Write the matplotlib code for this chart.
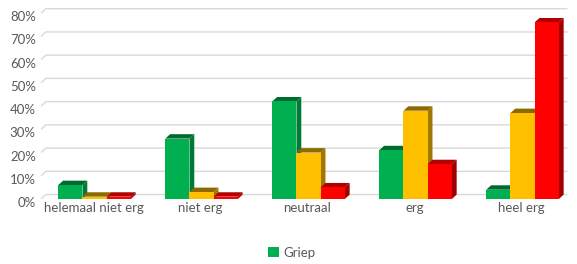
import matplotlib
matplotlib.use("Agg")
import matplotlib.pyplot as plt
import matplotlib.transforms as mtransforms
from matplotlib.patches import Polygon, Patch
import numpy as np

categories = ["helemaal niet erg", "niet erg", "neutraal", "erg", "heel erg"]
series_names = ["Griep", "Serie 2", "Serie 3"]
griep = [6, 26, 42, 21, 4]
serie2 = [1, 3, 20, 38, 37]
serie3 = [1, 1, 5, 15, 76]
yticks = [0, 10, 20, 30, 40, 50, 60, 70, 80]
ytick_labels = ["0%", "10%", "20%", "30%", "40%", "50%", "60%", "70%", "80%"]

front_colors = ["#00B050", "#FFC000", "#FF0000"]
side_colors = ["#007A36", "#A07800", "#A00000"]
top_colors = ["#006B2F", "#8C6A00", "#B00000"]

plt.rcParams['font.family'] = ['Lato', 'DejaVu Sans']

fig = plt.figure(figsize=(5.77, 2.64), dpi=100)
ax = fig.add_axes([40/577, (264-199)/264, 535/577, (199-1.5)/264])
ax.set_xlim(-0.5, 4.5)
ax.set_ylim(0, 85)

dx = 0.045   # depth offset in x (data units)
dz = 1.9     # depth offset in y (percent)
w = 0.226

x = np.arange(len(categories))

# back-wall gridlines
for v in yticks:
    ax.plot([-0.49, -0.49 + dx, 4.43], [v, v + dz, v + dz], color="#D9D9D9", lw=1.0,
            zorder=0, solid_capstyle="butt")

all_series = [griep, serie2, serie3]
for i, vals in enumerate(all_series):
    offs = (i - 1) * w + 0.01
    bars = ax.bar(x + offs, vals, width=w, color=front_colors[i], zorder=3 + i * 2,
                  label=series_names[i], linewidth=0)
    for b in bars:
        x0 = b.get_x()
        x1 = x0 + b.get_width()
        h = b.get_height()
        side = Polygon([(x1, 0), (x1 + dx, dz), (x1 + dx, h + dz), (x1, h)],
                       closed=True, facecolor=side_colors[i], edgecolor="none",
                       zorder=3 + i * 2 - 0.5)
        top = Polygon([(x0, h), (x0 + dx, h + dz), (x1 + dx, h + dz), (x1, h)],
                      closed=True, facecolor=top_colors[i], edgecolor="none",
                      zorder=3 + i * 2 - 0.5)
        ax.add_patch(side)
        ax.add_patch(top)

ax.set_yticks(yticks)
ax.set_yticklabels(ytick_labels)
ax.set_xticks(x)
ax.set_xticklabels(categories)
ax.tick_params(axis="both", length=0, colors="#595959", labelsize=9.5)
ax.tick_params(axis="y", pad=3)
ax.tick_params(axis="x", pad=2)
offset = mtransforms.ScaledTranslation(0, -3/100, fig.dpi_scale_trans)
for lab in ax.get_yticklabels():
    lab.set_transform(lab.get_transform() + offset)
for s in ax.spines.values():
    s.set_visible(False)

handles = [Patch(facecolor=front_colors[0], edgecolor="none")]
fig.legend(handles, [series_names[0]], loc="center", bbox_to_anchor=(292/577, 1 - 253/264),
           frameon=False, fontsize=9.5, labelcolor="#595959", handlelength=0.8,
           handleheight=0.8, handletextpad=0.4)

fig.savefig("out.png", dpi=100)
